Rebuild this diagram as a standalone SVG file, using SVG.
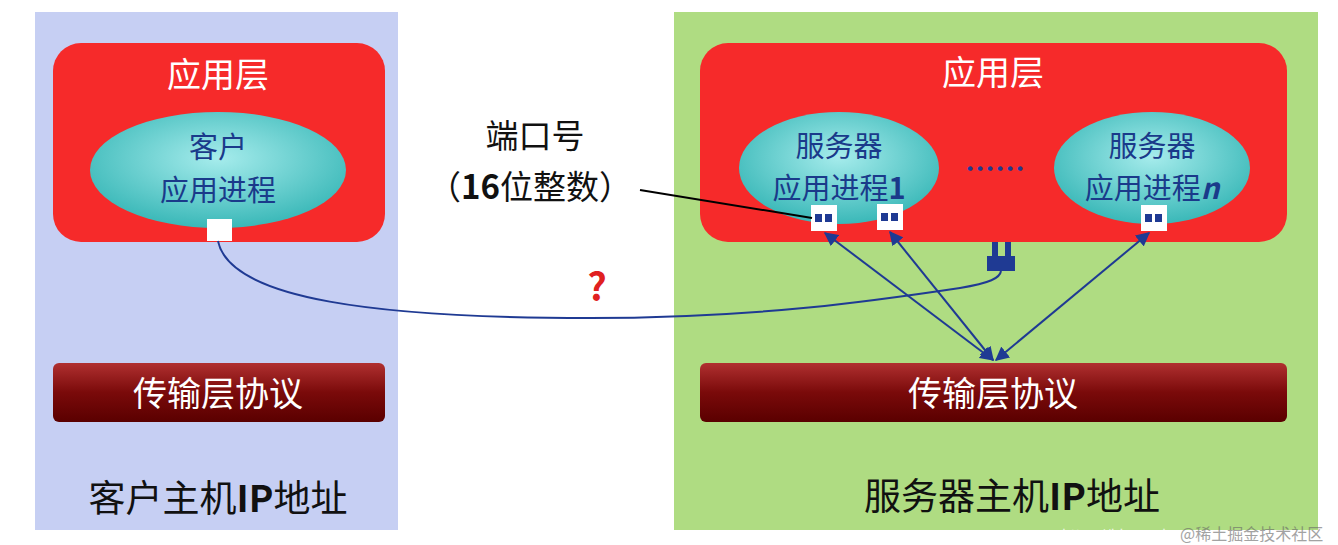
<svg xmlns="http://www.w3.org/2000/svg" width="1338" height="545" viewBox="0 0 1338 545">
<defs>
<style>
.t{font-family:"Noto Sans CJK SC","Liberation Sans",sans-serif;}
.w{fill:#fff;font-size:34px;text-anchor:middle}
.b{fill:#1a3a8a;font-size:29px;text-anchor:middle}
.k{fill:#111;font-size:37px;text-anchor:middle}
.conn{stroke:#1f3a93;stroke-width:2;fill:none}
.port{fill:#fff}
.pd{fill:#1f3a93}
</style>
<linearGradient id="tr" x1="0" y1="0" x2="0" y2="1"><stop offset="0" stop-color="#b03030"/><stop offset="0.5" stop-color="#7a0a0a"/><stop offset="1" stop-color="#5a0000"/></linearGradient>
<radialGradient id="el" cx="0.5" cy="0.4" r="0.6"><stop offset="0" stop-color="#a6ecec"/><stop offset="1" stop-color="#3ab8b8"/></radialGradient>
<marker id="ah" viewBox="0 0 10 10" refX="9" refY="5" markerWidth="7" markerHeight="7" orient="auto-start-reverse"><path d="M0,0L10,5L0,10z" fill="#1f3a93"/></marker>
</defs>
<rect width="1338" height="545" fill="#fff"/>
<g id="client-host">
<rect x="35" y="12" width="363" height="518" fill="#c6cff3"/>
<text class="t k" x="218" y="512">客户主机<tspan font-weight="bold">IP</tspan>地址</text>
</g>
<g id="server-host">
<rect x="674" y="12" width="644" height="518" fill="#afdc82"/>
<text class="t k" x="1012" y="510">服务器主机<tspan font-weight="bold">IP</tspan>地址</text>
</g>
<g id="client-app">
<rect x="53" y="43" width="332" height="199" rx="28" fill="#f62a2a"/>
<text class="t w" x="218" y="87">应用层</text>
<ellipse cx="218" cy="170" rx="128" ry="58" fill="url(#el)"/>
<text class="t b" x="218" y="158">客户</text>
<text class="t b" x="218" y="201">应用进程</text>
<rect x="207" y="219" width="25" height="22" class="port"/>
</g>
<g id="server-app">
<rect x="700" y="43" width="587" height="199" rx="28" fill="#f62a2a"/>
<text class="t w" x="993" y="85">应用层</text>
<ellipse cx="839" cy="168" rx="100" ry="56" fill="url(#el)"/>
<text class="t b" x="839" y="157">服务器</text>
<text class="t b" x="839" y="199">应用进程<tspan font-weight="bold">1</tspan></text>
<text x="995" y="180" fill="#1f3a93" font-size="30" font-weight="bold" text-anchor="middle" class="t">……</text>
<ellipse cx="1152" cy="168" rx="98" ry="56" fill="url(#el)"/>
<text class="t b" x="1152" y="157">服务器</text>
<text class="t b" x="1152" y="199">应用进程<tspan font-weight="bold" font-style="italic">n</tspan></text>
<rect x="811" y="205" width="26" height="26" class="port"/><rect x="815" y="214" width="7" height="8" class="pd"/><rect x="825" y="214" width="7" height="8" class="pd"/>
<rect x="877" y="204" width="26" height="26" class="port"/><rect x="881" y="213" width="7" height="8" class="pd"/><rect x="891" y="213" width="7" height="8" class="pd"/>
<rect x="1141" y="205" width="26" height="26" class="port"/><rect x="1145" y="214" width="7" height="8" class="pd"/><rect x="1155" y="214" width="7" height="8" class="pd"/>
</g>
<g id="plug">
<rect x="987" y="256" width="28" height="15" class="pd"/>
<rect x="992" y="242" width="6" height="14" class="pd"/><rect x="1005" y="242" width="6" height="14" class="pd"/>
</g>
<g id="client-transport">
<rect x="53" y="363" width="332" height="59" rx="6" fill="url(#tr)"/>
<text class="t w" x="218" y="406">传输层协议</text>
</g>
<g id="server-transport">
<rect x="700" y="363" width="587" height="59" rx="6" fill="url(#tr)"/>
<text class="t w" x="993" y="406">传输层协议</text>
</g>
<g id="port-label">
<text class="t" x="535" y="148" font-size="33" text-anchor="middle" fill="#111">端口号</text>
<text class="t" x="530" y="199" font-size="33" text-anchor="middle" fill="#111">（<tspan font-weight="bold">16</tspan>位整数）</text>
</g>
<text class="t" x="597" y="301" font-size="38" font-weight="bold" fill="#e02020" text-anchor="middle">?</text>
<g id="connectors">
<line x1="640" y1="190" x2="812" y2="218" stroke="#000" stroke-width="2"/>
<path class="conn" stroke-width="3" d="M218,241 C230,300 380,318 590,318 C760,318 880,300 960,288 C990,283 1000,278 1001,271"/>
<line class="conn" x1="993" y1="360" x2="825" y2="233" marker-start="url(#ah)" marker-end="url(#ah)"/>
<line class="conn" x1="993" y1="360" x2="890" y2="232" marker-start="url(#ah)" marker-end="url(#ah)"/>
<line class="conn" x1="996" y1="360" x2="1149" y2="233" marker-start="url(#ah)" marker-end="url(#ah)"/>
</g>
<text class="t" x="1062" y="540" font-size="14" fill="#fff" opacity="0.8">https://blog.csdn</text>
<text class="t" x="1180" y="540" font-size="16" fill="#666" opacity="0.6">@稀土掘金技术社区</text>
</svg>
